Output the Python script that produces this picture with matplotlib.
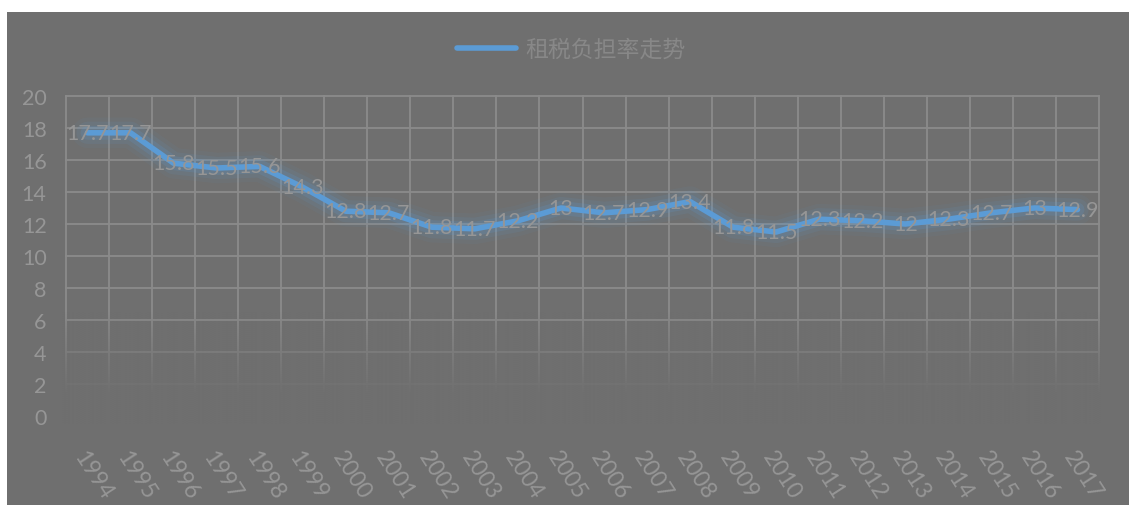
import matplotlib.pyplot as plt
import matplotlib.patheffects as pe
from matplotlib.patches import Rectangle
import numpy as np

# 字体：数字用 Lato，中文回退到 Noto Sans CJK SC
plt.rcParams['font.family'] = ['Lato', 'Noto Sans CJK SC', 'DejaVu Sans']

# 数据
years = ['1994', '1995', '1996', '1997', '1998', '1999', '2000', '2001',
         '2002', '2003', '2004', '2005', '2006', '2007', '2008', '2009',
         '2010', '2011', '2012', '2013', '2014', '2015', '2016', '2017']
tax_rate = [17.7, 17.7, 15.8, 15.5, 15.6, 14.3, 12.8, 12.7,
            11.8, 11.7, 12.2, 13, 12.7, 12.9, 13.4, 11.8,
            11.5, 12.3, 12.2, 12, 12.3, 12.7, 13, 12.9]
y_ticks = [0, 2, 4, 6, 8, 10, 12, 14, 16, 18, 20]
series_name = '租税负担率走势'

# 配色
BG_COLOR = '#6f6f6f'
GRID_COLOR = '#8b8b8b'
TEXT_COLOR = '#969696'
LEGEND_TEXT_COLOR = '#888888'
LINE_COLOR = '#5b9bd5'
FONT_SIZE = 15.5

fig = plt.figure(figsize=(11.29, 5.06), dpi=100)
fig.patch.set_facecolor('white')
# 灰色图表区，放在坐标轴下面
bg = Rectangle((7 / 1129, 0), 1 - 7 / 1129, 1 - 13 / 506,
               transform=fig.transFigure, facecolor=BG_COLOR, edgecolor='none')
bg.set_zorder(-10)
fig.add_artist(bg)

ax = fig.add_axes([66 / 1129, 89 / 506, 1033 / 1129, 320 / 506])
ax.set_facecolor('none')
for spine in ax.spines.values():
    spine.set_visible(False)

n = len(years)
x = np.arange(n)

# 网格线
for yv in y_ticks:
    ax.axhline(yv, color=GRID_COLOR, lw=1.3, zorder=1, clip_on=False)
for xv in np.arange(n + 1) - 0.5:
    ax.axvline(xv, color=GRID_COLOR, lw=1.3, zorder=1, clip_on=False)

# 底部渐隐遮罩
ys = np.linspace(-0.5, 7, 300)
fade = np.clip((6.5 - ys) / 5.2, 0, 1) ** 0.9
bg_rgb = np.array([0x6f, 0x6f, 0x6f]) / 255
mask = np.zeros((len(ys), 2, 4))
mask[:, :, :3] = bg_rgb
mask[:, :, 3] = fade[:, None]
ax.imshow(mask, extent=(-0.6, n - 0.4, -0.5, 7), origin='lower',
          aspect='auto', zorder=2, interpolation='bilinear', clip_on=False)

# 折线及发光效果
glow = [pe.Stroke(linewidth=22, foreground=LINE_COLOR, alpha=0.06),
        pe.Stroke(linewidth=16, foreground=LINE_COLOR, alpha=0.10),
        pe.Stroke(linewidth=10, foreground=LINE_COLOR, alpha=0.18),
        pe.Normal()]
line, = ax.plot(x, tax_rate, color=LINE_COLOR, lw=4.0, solid_joinstyle='round',
                solid_capstyle='round', zorder=3, label=series_name)
line.set_path_effects(glow)

# 数据标签
for xi, v in zip(x, tax_rate):
    ax.text(xi, v, f'{v:g}', ha='center', va='center', fontsize=FONT_SIZE,
            color=TEXT_COLOR, zorder=4)

ax.set_xlim(-0.5, n - 0.5)
ax.set_ylim(0, 20)
ax.set_yticks(y_ticks)
ax.set_xticks(x)
ax.set_xticklabels(years)
ax.tick_params(axis='y', length=0, pad=14, labelsize=FONT_SIZE, labelcolor=TEXT_COLOR)
ax.tick_params(axis='x', length=0, pad=22, labelsize=16.5, labelcolor=TEXT_COLOR)
for lab in ax.get_xticklabels():
    lab.set_rotation(-57)
    lab.set_ha('left')
    lab.set_va('top')
    lab.set_rotation_mode('anchor')

# 图例
leg = fig.legend(handles=[line], loc='center', bbox_to_anchor=(571 / 1129, 456 / 506),
                 frameon=False, fontsize=16.5, handlelength=2.6, handletextpad=0.4,
                 labelcolor=LEGEND_TEXT_COLOR)
leg.get_lines()[0].set_path_effects([])
leg.get_lines()[0].set_linewidth(4)

fig.savefig('out.png', dpi=100, facecolor=fig.get_facecolor())
